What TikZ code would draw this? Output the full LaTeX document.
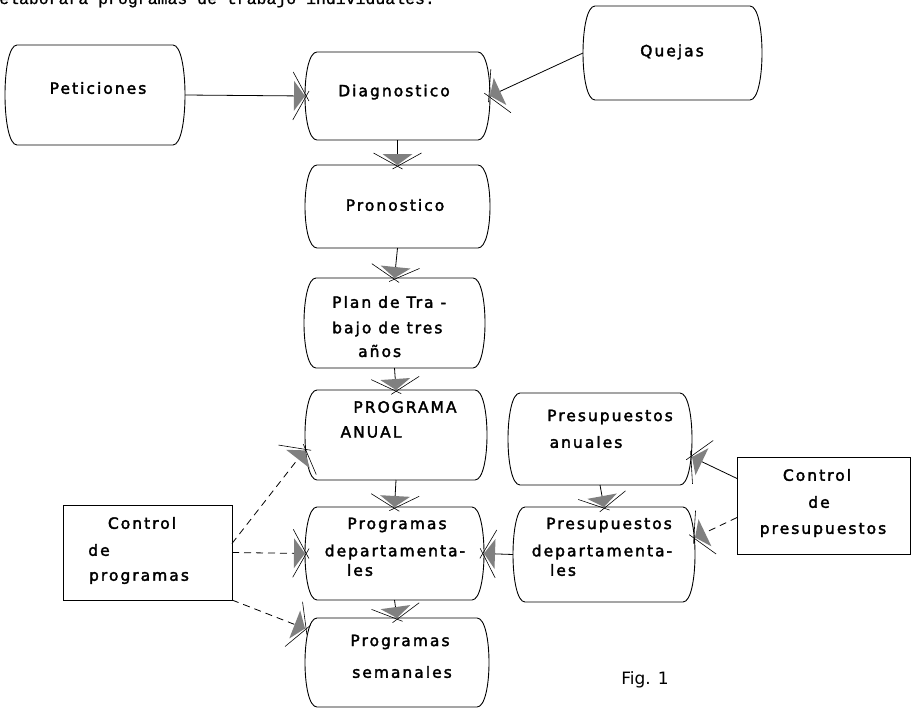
\documentclass[tikz,border=0pt]{standalone}
\usepackage{fontspec}
\setmainfont{DejaVu Sans}[LetterSpace=13, FakeBold=2.2]
\newfontfamily\typefont{Liberation Mono}[FakeBold=1]
\newfontfamily\figfont{DejaVu Sans}
\usetikzlibrary{decorations.markings}

% Barrel-shaped process box: straight top and bottom, bowed sides
\newcommand\barrelbox[5]{%
  \node[boxarea, minimum width={#4-#2}, minimum height={#5-#3}] (#1) at ({(#2+#4)/2},{(#3+#5)/2}) {};
  \draw[boxline] ([xshift=12pt]#1.north west) -- ([xshift=-12pt]#1.north east)
    .. controls ([xshift=4pt]#1.north east) and ([xshift=4pt]#1.south east) .. ([xshift=-12pt]#1.south east)
    -- ([xshift=12pt]#1.south west)
    .. controls ([xshift=-4pt]#1.south west) and ([xshift=-4pt]#1.north west) .. cycle;
}

\tikzset{
  boxarea/.style={draw=none, inner sep=0pt, outer sep=0pt},
  boxline/.style={line width=0.9pt, line join=round},
  ctrlbox/.style={draw, line width=0.9pt, inner sep=0pt, outer sep=0pt},
  lbl/.style={inner sep=0pt, font=\fontsize{15.5}{17}\selectfont},
  link/.style={line width=0.8pt},
  dashlink/.style={line width=0.8pt, dash pattern=on 7pt off 5pt},
  headfill/.style={fill=black!50},
  % crossed, shaded arrow head drawn at the end of a connector
  xarrow/.style={postaction={decorate, decoration={markings,
      mark=at position 1 with {
        \fill[headfill] (0pt,0pt) -- (-11pt,-15pt) -- (-11pt,15pt) -- cycle;
        \draw[solid, line width=0.6pt] (-12pt,-24pt) -- (4pt,5pt);
        \draw[solid, line width=0.6pt] (-12pt,24pt) -- (4pt,-5pt);
      }}}},
}

\begin{document}
\begin{tikzpicture}[x=1pt, y=-1pt]
  \clip (0,0) rectangle (915,709);
  \fill[white] (0,0) rectangle (915,709);

  % running text above the chart
  \node[anchor=base west, inner sep=0pt, font=\typefont\fontsize{16.5}{18}\selectfont]
    (intro) at (-1,4) {elaborará programas de trabajo individuales.};

  % process boxes
  \barrelbox{pet}{5}{45}{185}{145}
  \barrelbox{diag}{305}{52}{490}{140}
  \barrelbox{quejas}{583}{6}{762}{100}
  \barrelbox{pron}{305}{165}{490}{248}
  \barrelbox{plan}{304}{278}{485}{368}
  \barrelbox{panual}{305}{390}{487}{480}
  \barrelbox{progdep}{305}{507}{484}{600}
  \barrelbox{progsem}{305}{618}{489}{707}
  \barrelbox{presan}{508}{393}{692}{485}
  \barrelbox{presdep}{513}{507}{695}{602}

  % control boxes
  \node[ctrlbox, minimum width=169pt, minimum height=95pt] (cprog) at (147.5,552.5) {};
  \node[ctrlbox, minimum width=173pt, minimum height=97pt] (cpres) at (823.5,505.5) {};

  % labels
  \node[lbl] (pet-t) at (98,88) {Peticiones};
  \node[lbl] (diag-t) at (394,92) {Diagnostico};
  \node[lbl] (quejas-t) at (672,52) {Quejas};
  \node[lbl] (pron-t) at (395,205) {Pronostico};
  \node[lbl, anchor=west] (plan-t1) at (332,302) {Plan de Tra -};
  \node[lbl, anchor=west] (plan-t2) at (332,329) {bajo de tres};
  \node[lbl, anchor=west] (plan-t3) at (358,351) {años};
  \node[lbl] (panual-t1) at (405,407) {PROGRAMA};
  \node[lbl] (panual-t2) at (371,432) {ANUAL};
  \node[lbl] (progdep-t1) at (397,525) {Programas};
  \node[lbl] (progdep-t2) at (395,552) {departamenta-};
  \node[lbl] (progdep-t3) at (360,570) {les};
  \node[lbl] (progsem-t1) at (400,642) {Programas};
  \node[lbl] (progsem-t2) at (402,672) {semanales};
  \node[lbl] (presan-t1) at (610,417) {Presupuestos};
  \node[lbl] (presan-t2) at (586,442) {anuales};
  \node[lbl] (presdep-t1) at (609,525) {Presupuestos};
  \node[lbl] (presdep-t2) at (602,552) {departamenta-};
  \node[lbl] (presdep-t3) at (563,570) {les};
  \node[lbl] (cprog-t1) at (142,523) {Control};
  \node[lbl] (cprog-t2) at (99,550) {de};
  \node[lbl] (cprog-t3) at (139,578) {programas};
  \node[lbl] (cpres-t1) at (817,475) {Control};
  \node[lbl] (cpres-t2) at (819,502) {de};
  \node[lbl] (cpres-t3) at (823,530) {presupuestos};
  \node[inner sep=0pt, font=\figfont\fontsize{17}{19}\selectfont] (fig) at (645,680) {Fig. 1};

  % solid connectors
  \draw[link, xarrow] (pet.east) -- (diag.west);
  \draw[link, xarrow] (quejas.west) -- (diag.east);
  \draw[link, xarrow] (diag.south) -- (pron.north);
  \draw[link, xarrow] (pron.south) -- (plan.north);
  \draw[link, xarrow] (plan.south) -- (panual.north);
  \draw[link, xarrow] (panual.south) -- (progdep.north);
  \draw[link, xarrow] (progdep.south) -- (progsem.north);
  \draw[link, xarrow] (presan.south) -- (presdep.north);
  \draw[link, xarrow] (presdep.west) -- (progdep.east);
  \draw[link, xarrow] ([yshift=27pt]cpres.west) -- ([yshift=-18pt]presan.east);

  % dashed control connectors
  \draw[dashlink, xarrow] ([yshift=-12pt]cpres.west) -- ([yshift=17pt]presdep.east);
  \draw[dashlink, xarrow] ([yshift=9pt]cprog.east) -- ([yshift=-15pt]panual.west);
  \draw[dashlink, xarrow] (cprog.east) -- (progdep.west);
  \draw[dashlink, xarrow] (cprog.south east) -- ([yshift=34pt]progsem.west);
\end{tikzpicture}
\end{document}
